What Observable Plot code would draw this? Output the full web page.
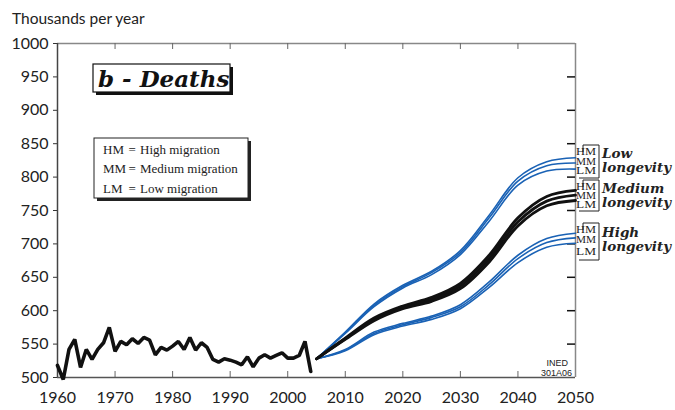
<!DOCTYPE html>
<html><head><meta charset="utf-8">
<script src="https://cdn.jsdelivr.net/npm/d3@7"></script>
<script src="https://cdn.jsdelivr.net/npm/@observablehq/plot@0.6"></script>
<style>body{margin:0;background:#fff}</style>
</head><body><div id="chart"></div>
<script>
// ---- data ----
const histYears = [1960,1961,1962,1963,1964,1965,1966,1967,1968,1969,1970,1971,1972,1973,1974,1975,1976,1977,1978,1979,1980,1981,1982,1983,1984,1985,1986,1987,1988,1989,1990,1991,1992,1993,1994,1995,1996,1997,1998,1999,2000,2001,2002,2003,2004];
const histDeaths = [518,497,542,557,515,542,527,542,552,575,539,554,549,558,551,560,556,534,545,541,547,554,542,560,541,552,545,527,523,528,526,523,519,531,516,529,534,529,533,537,529,529,533,554,509];

const projYears = [2005,2010,2015,2020,2025,2030,2035,2040,2045,2050];
const lowLongHM = [528,568,610,638,659,690,743,799,823,829];
const lowLongMM = [528,567,608,636,657,687,739,794,817,821];
const lowLongLM = [528,566,606,634,654,684,734,788,809,812];
const medLongHM = [528,559,589,607,620,641,683,739,771,780];
const medLongMM = [528,558,587,605,617,637,678,733,764,773];
const medLongLM = [528,557,585,603,614,633,673,727,757,765];
const highLongHM = [528,542,568,581,592,609,643,683,708,716];
const highLongMM = [528,541,566,579,590,606,639,678,702,709];
const highLongLM = [528,540,564,577,587,603,635,672,695,701];

const xTicks = [1960,1970,1980,1990,2000,2010,2020,2030,2040,2050];
const yTicks = [500,550,600,650,700,750,800,850,900,950,1000];
const migrationCodes = ["HM","MM","LM"];
const migrationNames = ["High migration","Medium migration","Low migration"];
const longevityGroups = [["Low","longevity"],["Medium","longevity"],["High","longevity"]];

// ---- tables ----
const hist = histYears.map((y,i)=>({year:y, deaths:histDeaths[i]}));
const seriesDefs = [
  ["low-HM",lowLongHM,"blue"],["low-MM",lowLongMM,"blue"],["low-LM",lowLongLM,"blue"],
  ["high-HM",highLongHM,"blue"],["high-MM",highLongMM,"blue"],["high-LM",highLongLM,"blue"],
  ["med-HM",medLongHM,"black"],["med-MM",medLongMM,"black"],["med-LM",medLongLM,"black"]
];
const proj = seriesDefs.flatMap(([name,vals,kind]) => projYears.map((y,i)=>({series:name, kind, year:y, deaths:vals[i]})));

const W = 675, H = 410, mL = 57, mR = 100, mT = 43, mB = 33;
const pw = W-mL-mR, ph = H-mT-mB;
const BLUE = "#1a62b5";
const AXFONT = "Lato, 'Open Sans', sans-serif";

const plot = Plot.plot({
  width: W, height: H,
  marginLeft: mL, marginRight: mR, marginTop: mT, marginBottom: mB,
  style: {fontFamily: AXFONT, fontSize: "16px", color: "#222", background: "#fff", overflow: "visible"},
  x: {domain: [1960, 2050]},
  y: {domain: [500, 1000]},
  marks: [
    Plot.ruleY([1000], {stroke: "#888", strokeWidth: 1.5}),
    Plot.ruleX([2050], {stroke: "#888", strokeWidth: 1.5}),
    Plot.tickX(xTicks.slice(1,-1), {x: d=>d, insetBottom: ph-6, stroke: "#666"}),
    Plot.tickX(xTicks.slice(1,-1), {x: d=>d, insetTop: ph-6, stroke: "#666"}),
    Plot.tickY(yTicks.slice(1,-1), {y: d=>d, insetLeft: pw-8, stroke: "#111", strokeWidth: 1.5}),
    Plot.axisY({ticks: yTicks, tickSize: 4, tickPadding: 5, fontSize: 16, label: null, stroke: "#333", tickFormat: d=>String(d)}),
    Plot.axisX({ticks: xTicks, tickSize: 0, tickPadding: 14, fontSize: 16, label: null, tickFormat: d=>String(d)}),
    Plot.ruleX([1960], {stroke: "#444", strokeWidth: 1.5}),
    Plot.ruleY([500], {stroke: "#555", strokeWidth: 1.5}),
    Plot.line(proj.filter(d=>d.kind==="blue"), {x: "year", y: "deaths", z: "series", stroke: BLUE, strokeWidth: 1.6, curve: "catmull-rom"}),
    Plot.line(proj.filter(d=>d.kind==="black"), {x: "year", y: "deaths", z: "series", stroke: "#111", strokeWidth: 2.8, curve: "catmull-rom"}),
    Plot.line(hist, {x: "year", y: "deaths", stroke: "#111", strokeWidth: 3.6, strokeLinejoin: "miter"})
  ]
});
document.getElementById("chart").appendChild(plot);

// ---- annotations ----
const svg = d3.select(plot);
const g = svg.append("g").attr("text-anchor", "start");
g.append("text").attr("x", 12).attr("y", 24).attr("font-family", AXFONT).attr("font-size", 15.5).attr("fill", "#222").text("Thousands per year");

// title box
g.append("rect").attr("x", 96).attr("y", 67).attr("width", 137).attr("height", 28).attr("fill", "#111");
g.append("rect").attr("x", 93).attr("y", 64).attr("width", 137).attr("height", 28).attr("fill", "#fff").attr("stroke", "#111").attr("stroke-width", 1.2);
g.append("text").attr("x", 98).attr("y", 87).attr("font-family", "'DejaVu Serif', serif").attr("font-weight", "bold").attr("font-style", "italic").attr("font-size", 23).attr("fill", "#111").text("b - Deaths");

// legend box
g.append("rect").attr("x", 97).attr("y", 141).attr("width", 154).attr("height", 60).attr("fill", "#222");
g.append("rect").attr("x", 94).attr("y", 138).attr("width", 154).attr("height", 60).attr("fill", "#fff").attr("stroke", "#222").attr("stroke-width", 1);
migrationCodes.forEach((c,i) => {
  const y = 154 + i*19.3;
  const t = (x, s) => g.append("text").attr("x", x).attr("y", y).attr("font-family", "'Liberation Serif', serif").attr("font-size", 13).attr("fill", "#222").text(s);
  t(103, c); t(128.5, "="); t(140, migrationNames[i]);
});

// right labels
const groups = [
  {top: 145, bottom: 178, rows: [152,161.5,171], base: [158,172]},
  {top: 180, bottom: 211, rows: [187,196,205], base: [193,207]},
  {top: 223, bottom: 260, rows: [230,240,252], base: [237,251]}
];
groups.forEach((gr, k) => {
  g.append("path").attr("d", `M583,${gr.top+7}V${gr.top}H599V${gr.bottom}H579`).attr("fill", "none").attr("stroke", "#222").attr("stroke-width", 1);
  migrationCodes.forEach((c,i) => {
    g.append("text").attr("x", 576).attr("y", gr.rows[i]).attr("dy", "0.35em").attr("font-family", "'Liberation Serif', serif").attr("font-size", 9.5).attr("textLength", 20).attr("lengthAdjust", "spacingAndGlyphs").attr("fill", "#222").text(c);
  });
  longevityGroups[k].forEach((s,i) => {
    g.append("text").attr("x", 602).attr("y", gr.base[i]).attr("font-family", "'DejaVu Serif', serif").attr("font-weight", "bold").attr("font-style", "italic").attr("font-size", 13.5).attr("fill", "#222").text(s);
  });
});

// source note
g.append("text").attr("x", 568).attr("y", 366).attr("text-anchor", "end").attr("font-family", "'Liberation Sans Narrow', 'Liberation Sans', sans-serif").attr("font-size", 9).attr("fill", "#222").text("INED");
g.append("text").attr("x", 572).attr("y", 376).attr("text-anchor", "end").attr("font-family", "'Liberation Sans Narrow', 'Liberation Sans', sans-serif").attr("font-size", 9).attr("fill", "#222").text("301A06");
</script>
</body></html>
